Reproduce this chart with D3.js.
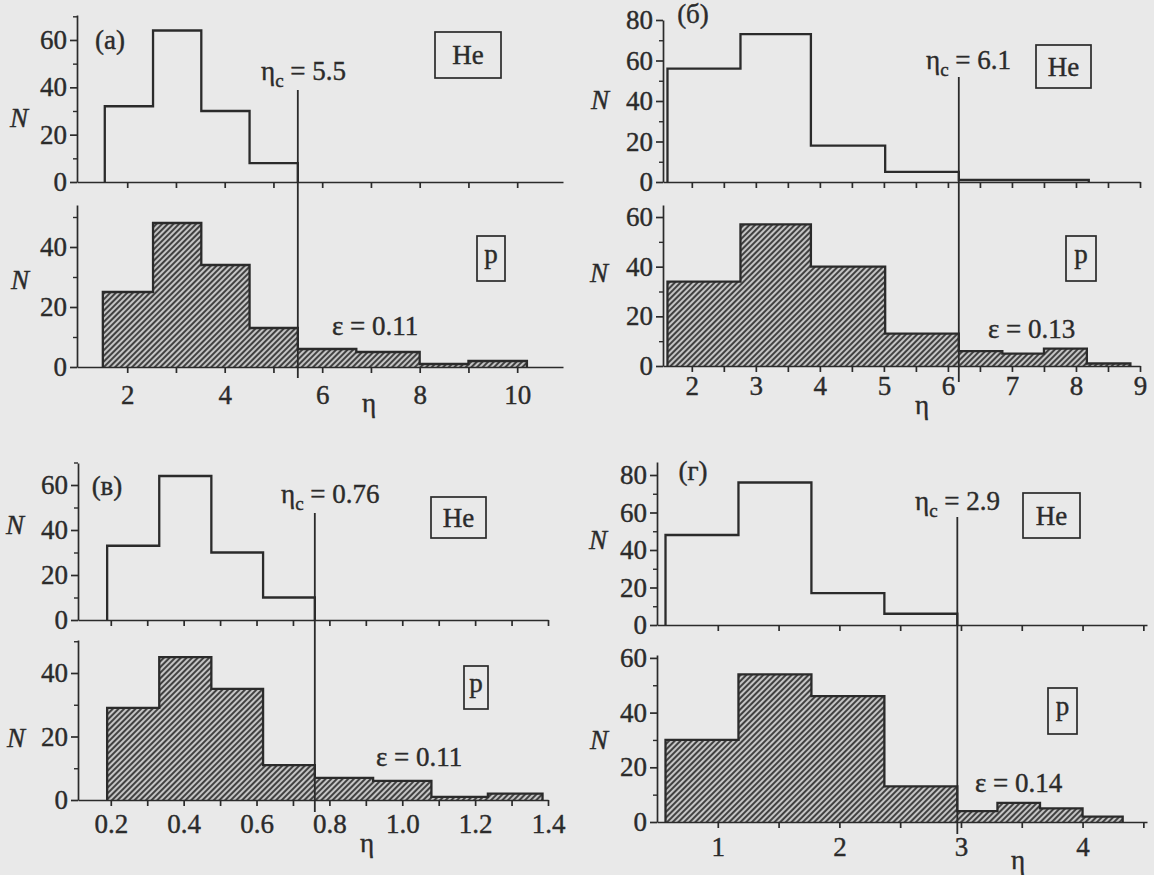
<!DOCTYPE html>
<html>
<head>
<meta charset="utf-8">
<script src="https://cdn.jsdelivr.net/npm/d3@7"></script>
<style>
  body { margin: 0; background: #e9e9e9; }
  svg { display: block; }
</style>
</head>
<body>
<div class="vis"></div>
<script>
(function() {
  'use strict';

  // ---- data ----
  var panelNames = ['(а)', '(б)', '(в)', '(г)'];
  var etaCText = ['5.5', '6.1', '0.76', '2.9'];
  var epsText = ['0.11', '0.13', '0.11', '0.14'];

  var heEdgesA = [1.54, 2.53, 3.52, 4.51, 5.5];
  var heCountsA = [32, 64, 30, 8];
  var pEdgesA = [1.5, 2.53, 3.52, 4.51, 5.5, 6.7, 8.0, 9.0, 10.2];
  var pCountsA = [25, 48, 34, 13, 6, 5, 1, 2];

  var heEdgesB = [1.62, 2.76, 3.86, 5.02, 6.17, 8.2];
  var heCountsB = [56, 73, 18, 5, 1];
  var pEdgesB = [1.62, 2.76, 3.86, 5.02, 6.17, 6.85, 7.5, 8.17, 8.85];
  var pCountsB = [34, 57, 40, 13, 6, 5, 7, 1];

  var heEdgesC = [0.19, 0.333, 0.476, 0.618, 0.76];
  var heCountsC = [33, 64, 30, 10];
  var pEdgesC = [0.19, 0.333, 0.476, 0.618, 0.76, 0.92, 1.08, 1.235, 1.385];
  var pCountsC = [29, 45, 35, 11, 7, 6, 1, 2];

  var heEdgesD = [0.57, 1.17, 1.77, 2.37, 2.97];
  var heCountsD = [48, 76, 17, 6];
  var pEdgesD = [0.57, 1.17, 1.77, 2.37, 2.97, 3.3, 3.65, 4.0, 4.33];
  var pCountsD = [30, 54, 46, 13, 4, 7, 5, 2];

  // cut-off line sits on the last He bin edge (index 4)
  var cutIndex = 4;

  // tick values
  var xTicksA = [2, 3, 4, 5, 6, 7, 8, 9, 10];
  var xLabelsA = [2, 4, 6, 8, 10];
  var xTicksB = [2, 2.5, 3, 3.5, 4, 4.5, 5, 5.5, 6, 6.5, 7, 7.5, 8, 8.5, 9];
  var xLabelsB = [2, 3, 4, 5, 6, 7, 8, 9];
  var xTicksC = [0.2, 0.3, 0.4, 0.5, 0.6, 0.7, 0.8, 0.9, 1.0, 1.1, 1.2, 1.3, 1.4];
  var xLabelsC = [0.2, 0.4, 0.6, 0.8, 1.0, 1.2, 1.4];
  var xTicksD = [1, 1.5, 2, 2.5, 3, 3.5, 4, 4.5];
  var xLabelsD = [1, 2, 3, 4];

  var yLabels60 = [0, 20, 40, 60];
  var yLabels80 = [0, 20, 40, 60, 80];
  var yLabels40 = [0, 20, 40];
  var yMinor70 = [10, 30, 50, 70];
  var yMinor50 = [10, 30, 50];
  var yMinor60 = [10, 30, 50];
  var yMinor80 = [10, 30, 50, 70];

  var ink = '#2b2b2b',
    font = "'Liberation Serif'",
    fs = 27;

  // ---- layout (pixels) ----
  var panels = [
    {
      name: panelNames[0], eta: etaCText[0], eps: epsText[0],
      xDom: [0.97, 10.94], xRange: [77, 563], xTicks: xTicksA, xLabels: xLabelsA, fmt: d3.format('d'), pad: 12,
      he: {edges: heEdgesA, counts: heCountsA, y0: 182, unit: 2.367, top: 15, labels: yLabels60, minor: yMinor70},
      p: {edges: pEdgesA, counts: pCountsA, y0: 367, unit: 3.0, top: 205, labels: yLabels40, minor: yMinor50},
      nameAt: [110, 49], etaAt: [261, 80], heBox: [435, 32, 66, 46], pBox: [477, 236, 28, 45],
      epsAt: [332, 335], etaLabelAt: [369, 412], nHe: [19, 127], nP: [20, 289], line: [90, 378]
    },
    {
      name: panelNames[1], eta: etaCText[1], eps: epsText[1],
      xDom: [1.55, 9.0], xRange: [663, 1140], xTicks: xTicksB, xLabels: xLabelsB, fmt: d3.format('d'), pad: 4,
      he: {edges: heEdgesB, counts: heCountsB, y0: 182, unit: 2.025, top: 20, labels: yLabels80, minor: yMinor80},
      p: {edges: pEdgesB, counts: pCountsB, y0: 366, unit: 2.483, top: 205, labels: yLabels60, minor: yMinor60},
      nameAt: [693, 23], etaAt: [926, 69], heBox: [1036, 45, 55, 43], pBox: [1066, 236, 30, 45],
      epsAt: [988, 338], etaLabelAt: [922, 414], nHe: [600, 109], nP: [599, 282], line: [77, 382]
    },
    {
      name: panelNames[2], eta: etaCText[2], eps: epsText[2],
      xDom: [0.11, 1.4], xRange: [78, 548], xTicks: xTicksC, xLabels: xLabelsC, fmt: d3.format('.1f'), pad: 8,
      he: {edges: heEdgesC, counts: heCountsC, y0: 620, unit: 2.25, top: 463, labels: yLabels60, minor: yMinor70},
      p: {edges: pEdgesC, counts: pCountsC, y0: 800, unit: 3.175, top: 640, labels: yLabels40, minor: yMinor50},
      nameAt: [107, 495], etaAt: [281, 503], heBox: [431, 497, 55, 41], pBox: [464, 666, 24, 43],
      epsAt: [376, 766], etaLabelAt: [367, 852], nHe: [15, 534], nP: [16, 747], line: [513, 812]
    },
    {
      name: panelNames[3], eta: etaCText[3], eps: epsText[3],
      xDom: [0.5, 4.53], xRange: [657, 1147], xTicks: xTicksD, xLabels: xLabelsD, fmt: d3.format('d'), pad: 9,
      he: {edges: heEdgesD, counts: heCountsD, y0: 625, unit: 1.875, top: 462, labels: yLabels80, minor: yMinor80},
      p: {edges: pEdgesD, counts: pCountsD, y0: 822, unit: 2.735, top: 655, labels: yLabels60, minor: yMinor60},
      nameAt: [693, 480], etaAt: [915, 510], heBox: [1023, 493, 57, 45], pBox: [1048, 688, 29, 46],
      epsAt: [975, 792], etaLabelAt: [1018, 869], nHe: [598, 549], nP: [599, 749], line: [517, 834]
    }
  ];

  var svg = d3.select('.vis').append('svg')
    .attr('width', 1154)
    .attr('height', 875);

  svg.append('rect')
    .attr('width', 1154)
    .attr('height', 875)
    .attr('fill', '#e9e9e9');

  var pat = svg.append('defs').append('pattern')
    .attr('id', 'hatch')
    .attr('patternUnits', 'userSpaceOnUse')
    .attr('width', 4)
    .attr('height', 4)
    .attr('patternTransform', 'rotate(45)');
  pat.append('rect')
    .attr('width', 4)
    .attr('height', 4)
    .attr('fill', '#c4c4c4');
  pat.append('line')
    .attr('x1', 1).attr('y1', 0)
    .attr('x2', 1).attr('y2', 4)
    .attr('stroke', '#333')
    .attr('stroke-width', 1.8);

  // serif text, slightly thickened to look like print
  function styleText(sel) {
    sel.attr('font-family', null)
      .style('font-family', font)
      .style('font-size', fs + 'px')
      .attr('fill', ink)
      .attr('stroke', ink)
      .attr('stroke-width', 0.4);
  }

  function addText(g, txt, x, y, anchor) {
    var t = g.append('text')
      .attr('x', x)
      .attr('y', y)
      .attr('text-anchor', anchor || 'start')
      .text(txt);
    styleText(t);
    return t;
  }

  function stepPoints(edges, counts) {
    var pts = [[edges[0], 0]];
    counts.forEach(function(c, i) {
      pts.push([edges[i], c]);
      pts.push([edges[i + 1], c]);
    });
    pts.push([edges[edges.length - 1], 0]);
    return pts;
  }

  function drawSub(g, x, cfg, sub, hatched, withLabels) {
    var y = d3.scaleLinear()
      .domain([0, (sub.y0 - sub.top) / sub.unit])
      .range([sub.y0, sub.top]);

    var line = d3.line()
      .x(function(d) { return x(d[0]); })
      .y(function(d) { return y(d[1]); });

    g.append('path')
      .datum(stepPoints(sub.edges, sub.counts))
      .attr('d', line)
      .attr('fill', hatched ? 'url(#hatch)' : 'none')
      .attr('stroke', ink)
      .attr('stroke-width', 2.3);

    // x axis
    var xa = g.append('g')
      .attr('transform', 'translate(0,' + sub.y0 + ')')
      .call(d3.axisBottom(x)
        .tickValues(cfg.xTicks)
        .tickSizeInner(6)
        .tickSizeOuter(0)
        .tickPadding(cfg.pad)
        .tickFormat(function(d) {
          return withLabels && cfg.xLabels.indexOf(d) >= 0 ? cfg.fmt(d) : '';
        }));
    xa.attr('color', ink).attr('font-family', null);
    xa.selectAll('path, line').attr('stroke-width', 1.7);
    styleText(xa.selectAll('text'));

    // y axis, major + minor ticks
    var ya = g.append('g')
      .attr('transform', 'translate(' + cfg.xRange[0] + ',0)')
      .call(d3.axisLeft(y)
        .tickValues(sub.labels)
        .tickSizeInner(7)
        .tickSizeOuter(0)
        .tickPadding(3)
        .tickFormat(d3.format('d')));
    ya.attr('color', ink).attr('font-family', null);
    ya.selectAll('path, line').attr('stroke-width', 1.7);
    styleText(ya.selectAll('text'));

    var ym = g.append('g')
      .attr('transform', 'translate(' + cfg.xRange[0] + ',0)')
      .call(d3.axisLeft(y)
        .tickValues(sub.minor.filter(function(v) { return y(v) >= sub.top - 1; }))
        .tickSizeInner(4)
        .tickSizeOuter(0)
        .tickFormat(''));
    ym.attr('color', ink);
    ym.select('.domain').remove();
    ym.selectAll('line').attr('stroke-width', 1.4);
  }

  panels.forEach(function(cfg) {
    var g = svg.append('g');
    var x = d3.scaleLinear().domain(cfg.xDom).range(cfg.xRange);

    drawSub(g, x, cfg, cfg.he, false, false);
    drawSub(g, x, cfg, cfg.p, true, true);

    // cut-off line
    g.append('line')
      .attr('x1', x(cfg.he.edges[cutIndex]))
      .attr('x2', x(cfg.he.edges[cutIndex]))
      .attr('y1', cfg.line[0])
      .attr('y2', cfg.line[1])
      .attr('stroke', ink)
      .attr('stroke-width', 1.8);

    addText(g, cfg.name, cfg.nameAt[0], cfg.nameAt[1], 'middle');

    var t = addText(g, 'η', cfg.etaAt[0], cfg.etaAt[1]);
    t.append('tspan').style('font-size', '19px').attr('dy', 7).text('c');
    t.append('tspan').attr('dy', -7).text(' = ' + cfg.eta);

    addText(g, 'ε = ' + cfg.eps, cfg.epsAt[0], cfg.epsAt[1]);
    addText(g, 'η', cfg.etaLabelAt[0], cfg.etaLabelAt[1], 'middle');

    addText(g, 'N', cfg.nHe[0], cfg.nHe[1], 'middle').style('font-style', 'italic');
    addText(g, 'N', cfg.nP[0], cfg.nP[1], 'middle').style('font-style', 'italic');

    [[cfg.heBox, 'He'], [cfg.pBox, 'p']].forEach(function(b) {
      var r = b[0];
      g.append('rect')
        .attr('x', r[0]).attr('y', r[1])
        .attr('width', r[2]).attr('height', r[3])
        .attr('fill', 'none')
        .attr('stroke', ink)
        .attr('stroke-width', 1.7);
      addText(g, b[1], r[0] + r[2] / 2, r[1] + r[3] / 2 + (b[1] === 'p' ? 4 : 9), 'middle');
    });
  });
}());
</script>
</body>
</html>
